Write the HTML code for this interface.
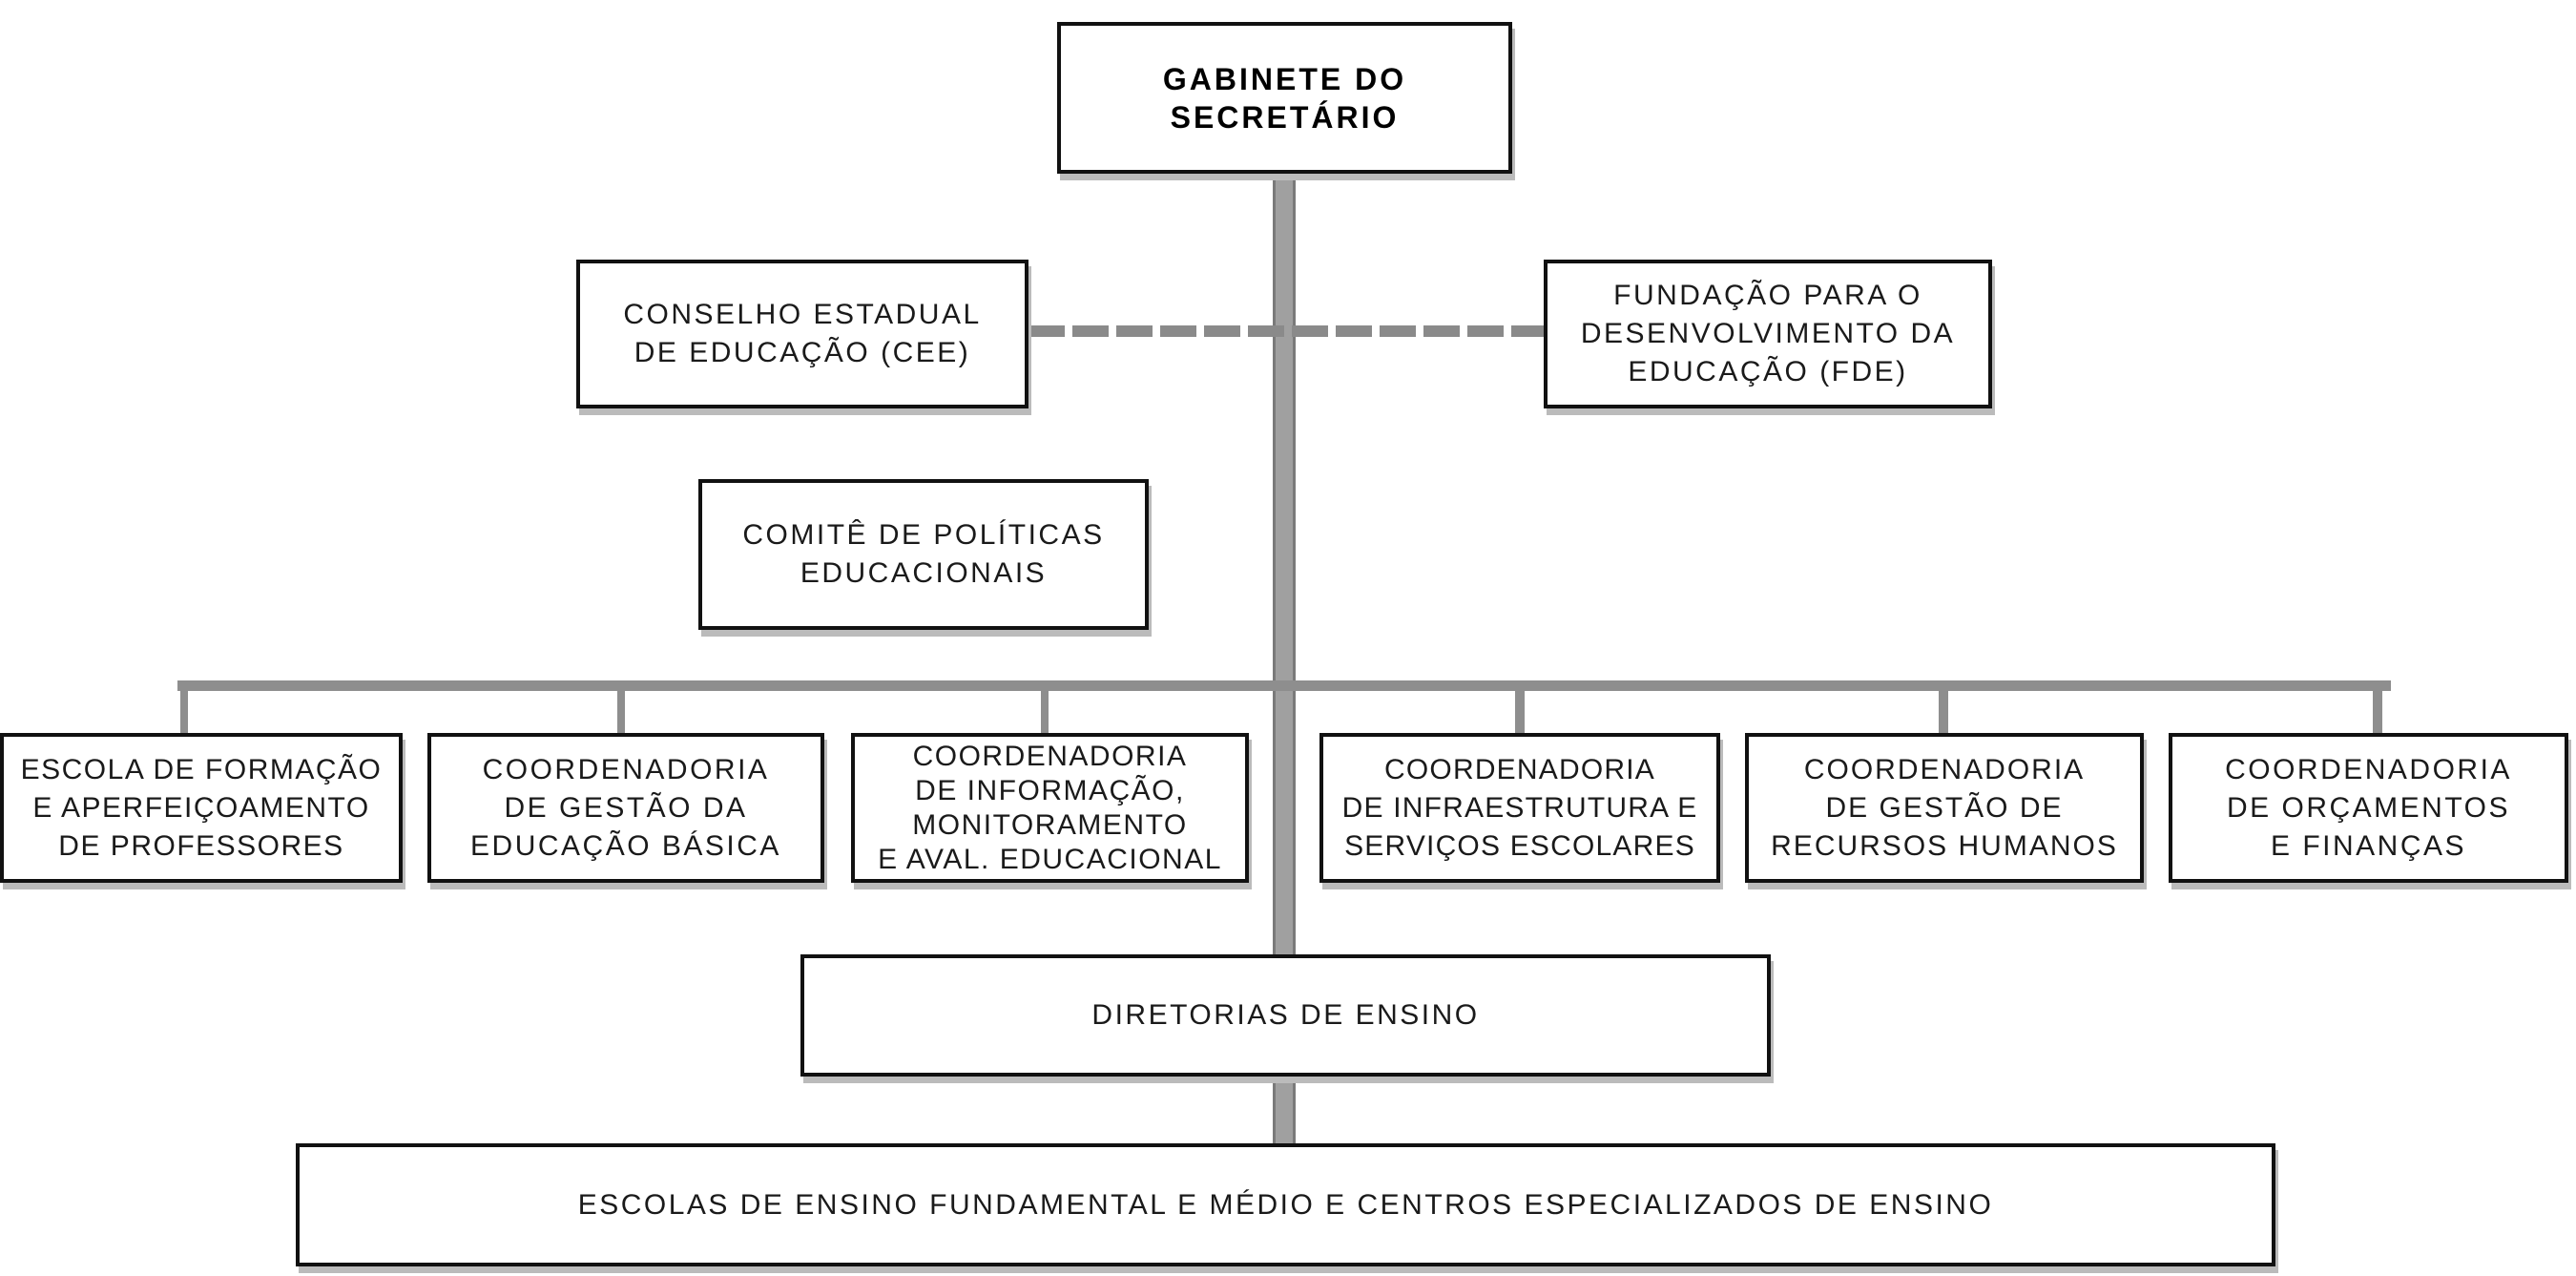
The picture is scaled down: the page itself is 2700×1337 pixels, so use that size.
<!DOCTYPE html>
<html><head><meta charset="utf-8"><style>
html,body{margin:0;padding:0;background:#fff;}
body{width:2700px;height:1337px;position:relative;overflow:hidden;font-family:"Liberation Sans",sans-serif;}
.b{position:absolute;box-sizing:border-box;border:4px solid #111;background:#fff;display:flex;align-items:center;justify-content:center;text-align:center;font-size:30px;line-height:40px;color:#1a1a1a;box-shadow:3px 7px 0 #bbb;letter-spacing:2.5px;white-space:nowrap;}
.l{position:absolute;background:#8e8e8e;}
</style></head><body>
<div class="l" style="left:1334px;top:182px;width:24px;height:1018px;background:#a0a0a0;border-left:3px solid #7a7a7a;border-right:3px solid #7a7a7a;box-sizing:border-box;"></div>
<div style="position:absolute;left:1078px;top:341px;width:540px;height:12px;background:repeating-linear-gradient(90deg,#8a8a8a 0 38px,transparent 38px 46px);"></div>
<div class="l" style="left:186px;top:713px;width:2320px;height:11px;"></div>
<div class="l" style="left:189px;top:713px;width:8px;height:56px;"></div>
<div class="l" style="left:647px;top:713px;width:8px;height:56px;"></div>
<div class="l" style="left:1091px;top:713px;width:8px;height:56px;"></div>
<div class="l" style="left:1588px;top:713px;width:10px;height:56px;"></div>
<div class="l" style="left:2032px;top:713px;width:10px;height:56px;"></div>
<div class="l" style="left:2487px;top:713px;width:10px;height:56px;"></div>

<div class="b" style="left:1108px;top:23px;width:477px;height:159px;font-weight:bold;font-size:32px;line-height:40px;letter-spacing:3px;color:#000;">GABINETE DO<br>SECRETÁRIO</div>
<div class="b" style="left:604px;top:272px;width:474px;height:156px;">CONSELHO ESTADUAL<br>DE EDUCAÇÃO (CEE)</div>
<div class="b" style="left:1618px;top:272px;width:470px;height:156px;">FUNDAÇÃO PARA O<br>DESENVOLVIMENTO DA<br>EDUCAÇÃO (FDE)</div>
<div class="b" style="left:732px;top:502px;width:472px;height:158px;">COMITÊ DE POLÍTICAS<br>EDUCACIONAIS</div>

<div class="b" style="left:0px;top:768px;width:422px;height:157px;letter-spacing:1.5px;">ESCOLA DE FORMAÇÃO<br>E APERFEIÇOAMENTO<br>DE PROFESSORES</div>
<div class="b" style="left:448px;top:768px;width:416px;height:157px;">COORDENADORIA<br>DE GESTÃO DA<br>EDUCAÇÃO BÁSICA</div>
<div class="b" style="left:892px;top:768px;width:417px;height:157px;line-height:36px;letter-spacing:1.5px;">COORDENADORIA<br>DE INFORMAÇÃO,<br>MONITORAMENTO<br>E AVAL. EDUCACIONAL</div>
<div class="b" style="left:1383px;top:768px;width:420px;height:157px;letter-spacing:1.2px;">COORDENADORIA<br>DE INFRAESTRUTURA E<br>SERVIÇOS ESCOLARES</div>
<div class="b" style="left:1829px;top:768px;width:418px;height:157px;letter-spacing:2px;">COORDENADORIA<br>DE GESTÃO DE<br>RECURSOS HUMANOS</div>
<div class="b" style="left:2273px;top:768px;width:419px;height:157px;">COORDENADORIA<br>DE ORÇAMENTOS<br>E FINANÇAS</div>

<div class="b" style="left:839px;top:1000px;width:1017px;height:128px;">DIRETORIAS DE ENSINO</div>
<div class="b" style="left:310px;top:1198px;width:2075px;height:129px;">ESCOLAS DE ENSINO FUNDAMENTAL E MÉDIO E CENTROS ESPECIALIZADOS DE ENSINO</div>
</body></html>
